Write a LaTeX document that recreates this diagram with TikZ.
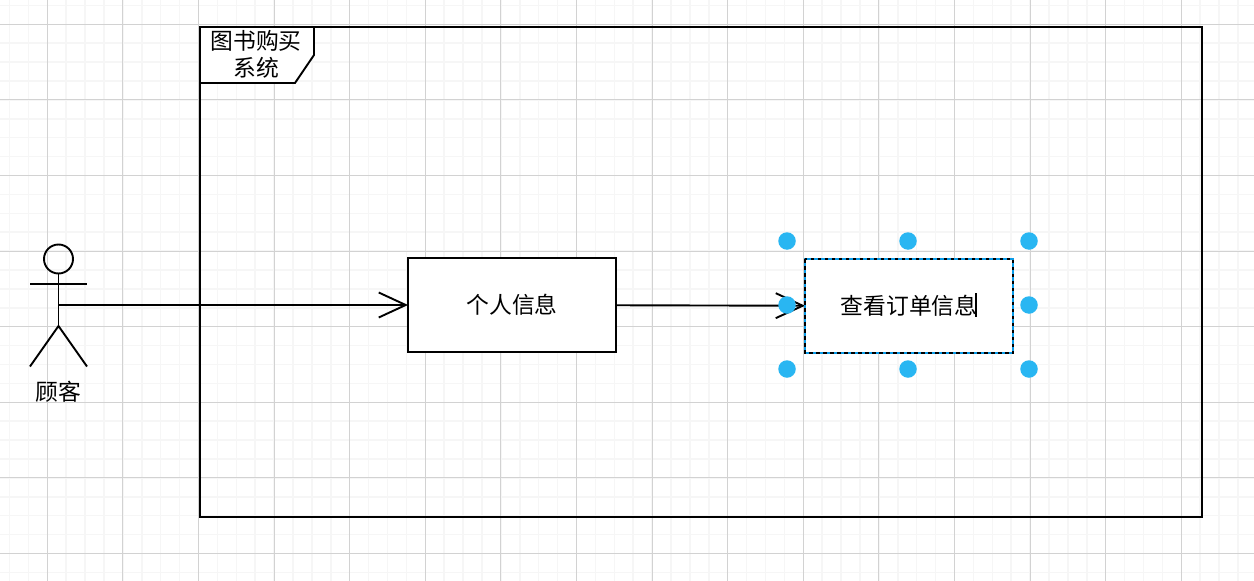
\documentclass[tikz,border=0pt]{standalone}
\usepackage{fontspec}
\setmainfont{Noto Sans CJK SC}
\usetikzlibrary{arrows.meta,positioning}
\definecolor{sysgridmajor}{HTML}{D2D2D2}
\definecolor{sysgridminor}{HTML}{F6F6F6}
\definecolor{syshandle}{HTML}{29B6F2}
\definecolor{sysselect}{HTML}{0A9BE8}
\begin{document}
\begin{tikzpicture}[
  x=1pt,y=-1pt,line width=1.9pt,
  usecase/.style={draw=black,fill=white,minimum width=208pt,minimum height=94pt,inner sep=0pt,outer sep=0pt,font=\fontsize{22.8}{27}\selectfont},
  label/.style={font=\fontsize{22.8}{27}\selectfont,align=center,inner sep=0pt},
  handle/.style={circle,fill=syshandle,minimum size=17.5pt,inner sep=0pt},
  >={Straight Barb[length=27pt,width=25pt,line width=1.9pt]}]
\useasboundingbox (0,0) rectangle (1254,581);
\fill[white] (0,0) rectangle (1254,581);
% grid
\foreach \k in {-3,...,66} {
  \draw[sysgridminor,line width=1.5pt] (47.3+18.9*\k,0) -- (47.3+18.9*\k,581);
}
\foreach \k in {-1,...,30} {
  \draw[sysgridminor,line width=1.5pt] (0,24.3+18.9*\k) -- (1254,24.3+18.9*\k);
}
\foreach \k in {0,...,15} {
  \draw[sysgridmajor,line width=1pt] (47.3+75.6*\k,0) -- (47.3+75.6*\k,581);
}
\foreach \k in {0,...,7} {
  \draw[sysgridmajor,line width=1pt] (0,24.3+75.6*\k) -- (1254,24.3+75.6*\k);
}
% system frame
\draw (200,27) rectangle (1202,517);
\draw[fill=white] (200,27) -- (314,27) -- (314,55) -- (295,83) -- (200,83) -- cycle;
\node[label] (title) at (256,54.5) {图书购买\\系统};
% actor
\draw (58.5,259) circle (14.5);
\draw (58.5,273.5) -- (58.5,326);
\draw (30,284) -- (87,284);
\draw (30,366.5) -- (58.5,326) -- (87,366.5);
\coordinate (actor) at (58,305);
\node[label] (customer) at (58,392) {顾客};
% use cases
\node[usecase] (info) at (512,305) {个人信息};
\node[usecase,right=189pt of info,yshift=-1pt] (orders) {查看订单信息};
\draw[->] (actor) -- (info);
\draw[->] (info) -- (orders);
% selection
\draw[sysselect,line width=2.2pt] (orders.north west) rectangle (orders.south east);
\draw[black,line width=1.1pt,dash pattern=on 3.5pt off 3.5pt] (orders.north west) rectangle (orders.south east);
\foreach \name/\px/\py in {a/787/241,b/908/241,c/1029/241,d/787/305,e/1029/305,f/787/369,g/908/369,h/1029/369} {
  \node[handle] (\name) at (\px,\py) {};
}
\coordinate (caret) at (976,293);
\draw[line width=1.3pt] (caret) -- ++(0,24);
\end{tikzpicture}
\end{document}
